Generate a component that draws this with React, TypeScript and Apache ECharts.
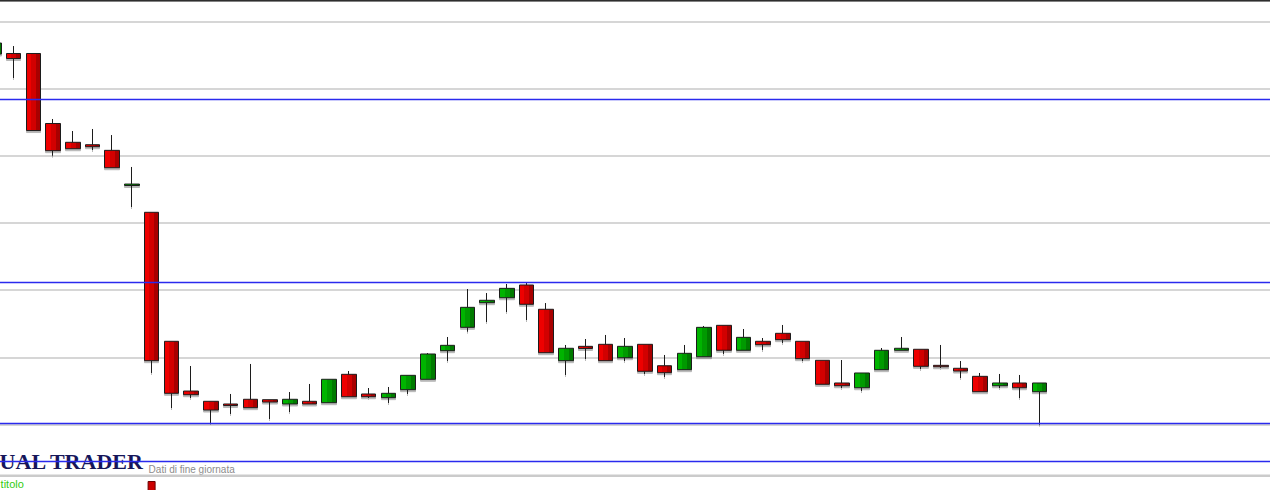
import React, { useEffect, useRef } from "react";
import * as echarts from "echarts";

// Sessions (x categories). The chart shows 54 daily candles followed by empty space.
const sessionLabels: string[] = Array.from({ length: 66 }, (_, i) => `S${i + 1}`);

// Daily candles: [open, close, low, high]
const candles: number[][] = [
  [0.9518, 0.9682, 0.9518, 0.9682],
  [0.9526, 0.9451, 0.9161, 0.9637],
  [0.9526, 0.8378, 0.8378, 0.9526],
  [0.8483, 0.8078, 0.8003, 0.855],
  [0.8203, 0.8107, 0.8107, 0.8371],
  [0.8167, 0.8137, 0.8088, 0.8401],
  [0.8083, 0.7824, 0.7824, 0.8311],
  [0.7559, 0.7581, 0.7239, 0.7835],
  [0.716, 0.4949, 0.4766, 0.716],
  [0.5238, 0.4463, 0.4244, 0.5238],
  [0.4497, 0.4442, 0.4393, 0.487],
  [0.4344, 0.4214, 0.4021, 0.4344],
  [0.4304, 0.4281, 0.4155, 0.4453],
  [0.4374, 0.4249, 0.4249, 0.49],
  [0.4368, 0.4333, 0.408, 0.4368],
  [0.4304, 0.4374, 0.4184, 0.4482],
  [0.4344, 0.4304, 0.4304, 0.4602],
  [0.4323, 0.4672, 0.4323, 0.4672],
  [0.4746, 0.4412, 0.4412, 0.4795],
  [0.4453, 0.4412, 0.4393, 0.4542],
  [0.4398, 0.4463, 0.4319, 0.4557],
  [0.4517, 0.4731, 0.4453, 0.4731],
  [0.4672, 0.5049, 0.4672, 0.5063],
  [0.5098, 0.5178, 0.4944, 0.5302],
  [0.5446, 0.5744, 0.5381, 0.6017],
  [0.5813, 0.5849, 0.5525, 0.5957],
  [0.5887, 0.6027, 0.5674, 0.6092],
  [0.6077, 0.5789, 0.5555, 0.6106],
  [0.5715, 0.5068, 0.5068, 0.5808],
  [0.4949, 0.5134, 0.4736, 0.5183],
  [0.5163, 0.5131, 0.4974, 0.5272],
  [0.5193, 0.4949, 0.4949, 0.5332],
  [0.4993, 0.5163, 0.4944, 0.5287],
  [0.5193, 0.4791, 0.4751, 0.5193],
  [0.4874, 0.477, 0.4706, 0.5034],
  [0.4815, 0.5059, 0.4815, 0.5183],
  [0.5008, 0.5446, 0.5008, 0.5466],
  [0.5476, 0.5104, 0.5049, 0.5476],
  [0.5104, 0.5297, 0.5104, 0.5421],
  [0.5238, 0.5187, 0.5108, 0.5287],
  [0.5357, 0.5262, 0.5212, 0.5481],
  [0.5238, 0.4979, 0.4944, 0.5238],
  [0.4955, 0.4597, 0.4597, 0.4955],
  [0.4617, 0.4576, 0.4542, 0.4959],
  [0.4546, 0.4766, 0.4497, 0.4766],
  [0.4815, 0.5104, 0.4815, 0.5138],
  [0.5104, 0.5134, 0.5104, 0.5302],
  [0.5119, 0.4865, 0.4825, 0.5119],
  [0.488, 0.4859, 0.484, 0.5183],
  [0.4836, 0.4795, 0.4691, 0.4944],
  [0.4716, 0.4487, 0.4487, 0.4766],
  [0.4576, 0.4617, 0.4542, 0.4751],
  [0.4617, 0.4546, 0.4393, 0.4736],
  [0.4487, 0.4617, 0.3995, 0.4617],
];

// Horizontal support / resistance levels (blue lines)
const levels: number[] = [0.8845, 0.6114, 0.4013, 0.3447];

// Price axis range and grid step
const priceMin = 0.3;
const priceMax = 1.0308;
const priceStep = 0.1;

const logoText = "UAL TRADER";
const footnote = "Dati di fine giornata";
const legendLabel = "titolo";

// the chart canvas is shifted left so that the first candle is only partly visible
const SHIFT = 15.6;

function stripes(c1: string, c2: string, c3: string) {
  return new echarts.graphic.LinearGradient(0, 0, 1, 0, [
    { offset: 0, color: c1 },
    { offset: 0.34, color: c1 },
    { offset: 0.34, color: c2 },
    { offset: 0.67, color: c2 },
    { offset: 0.67, color: c3 },
    { offset: 1, color: c3 },
  ]);
}

export default function App() {
  const ref = useRef<HTMLDivElement>(null);

  useEffect(() => {
    if (!ref.current) return;
    const chart = echarts.init(ref.current, undefined, { renderer: "svg" });
    chart.setOption({
      animation: false,
      backgroundColor: "#ffffff",
      grid: { left: 0, top: 1, right: 0, height: 490.5, containLabel: false },
      xAxis: {
        type: "category",
        data: sessionLabels,
        boundaryGap: true,
        axisLine: { show: false },
        axisTick: { show: false },
        axisLabel: { show: false },
        splitLine: { show: false },
      },
      yAxis: {
        type: "value",
        min: priceMin,
        max: priceMax,
        interval: priceStep,
        axisLine: { show: false },
        axisTick: { show: false },
        axisLabel: { show: false },
        splitLine: { show: true, lineStyle: { color: "#c8c8c8", width: 1.5 } },
      },
      series: [
        {
          type: "candlestick",
          data: candles,
          barWidth: 15,
          itemStyle: {
            color: stripes("#00b400", "#009a00", "#007a00"),
            color0: stripes("#ee0000", "#d20000", "#a80000"),
            borderColor: "#1e1e1e",
            borderColor0: "#1e1e1e",
            borderWidth: 1,
            shadowColor: "rgba(0,0,0,0.28)",
            shadowBlur: 1,
            shadowOffsetY: 2,
            shadowOffsetX: 0,
          },
          markLine: {
            silent: true,
            symbol: "none",
            precision: 4,
            label: { show: false },
            lineStyle: { color: "#2a2aee", width: 1.4, type: "solid" },
            data: levels.map((v) => ({ yAxis: v })),
          },
        },
      ],
      graphic: [
        {
          type: "rect",
          z: 100,
          shape: { x: 0, y: 0, width: 1310, height: 1.5 },
          style: { fill: "#2e2e2e" },
        },
        {
          type: "text",
          z: 1,
          x: SHIFT + 0,
          y: 461.5,
          style: {
            text: logoText,
            font: 'bold 22px "Liberation Serif"',
            fill: "#16165a",
            align: "left",
            verticalAlign: "middle",
          },
        },
        {
          type: "text",
          z: 1,
          x: SHIFT + 149,
          y: 469.5,
          style: {
            text: footnote,
            font: '10px "Liberation Sans"',
            fill: "#8c8c8c",
            align: "left",
            verticalAlign: "middle",
          },
        },
        {
          type: "rect",
          z: 100,
          shape: { x: 0, y: 477, width: 1310, height: 16 },
          style: { fill: "#ffffff" },
        },
        {
          type: "rect",
          z: 101,
          shape: { x: 0, y: 474.5, width: 1310, height: 2.5 },
          style: { fill: "#cbcbcb" },
        },
        {
          type: "text",
          z: 101,
          x: SHIFT + 1,
          y: 489.5,
          style: {
            text: legendLabel,
            font: '11px "Liberation Sans"',
            fill: "#33cc11",
            align: "left",
            verticalAlign: "bottom",
          },
        },
        {
          type: "rect",
          z: 101,
          shape: { x: SHIFT + 148.5, y: 481.5, width: 7, height: 10 },
          style: { fill: "#cc0000", stroke: "#6a0000", lineWidth: 1 },
        },
      ],
    });
    return () => chart.dispose();
  }, []);

  return (
    <div
      style={{
        position: "absolute",
        left: 0,
        top: 0,
        width: 1270,
        height: 490,
        overflow: "hidden",
        background: "#ffffff",
      }}
    >
      <div
        ref={ref}
        style={{ position: "absolute", left: -SHIFT, top: 0, width: 1302, height: 492 }}
      />
    </div>
  );
}
